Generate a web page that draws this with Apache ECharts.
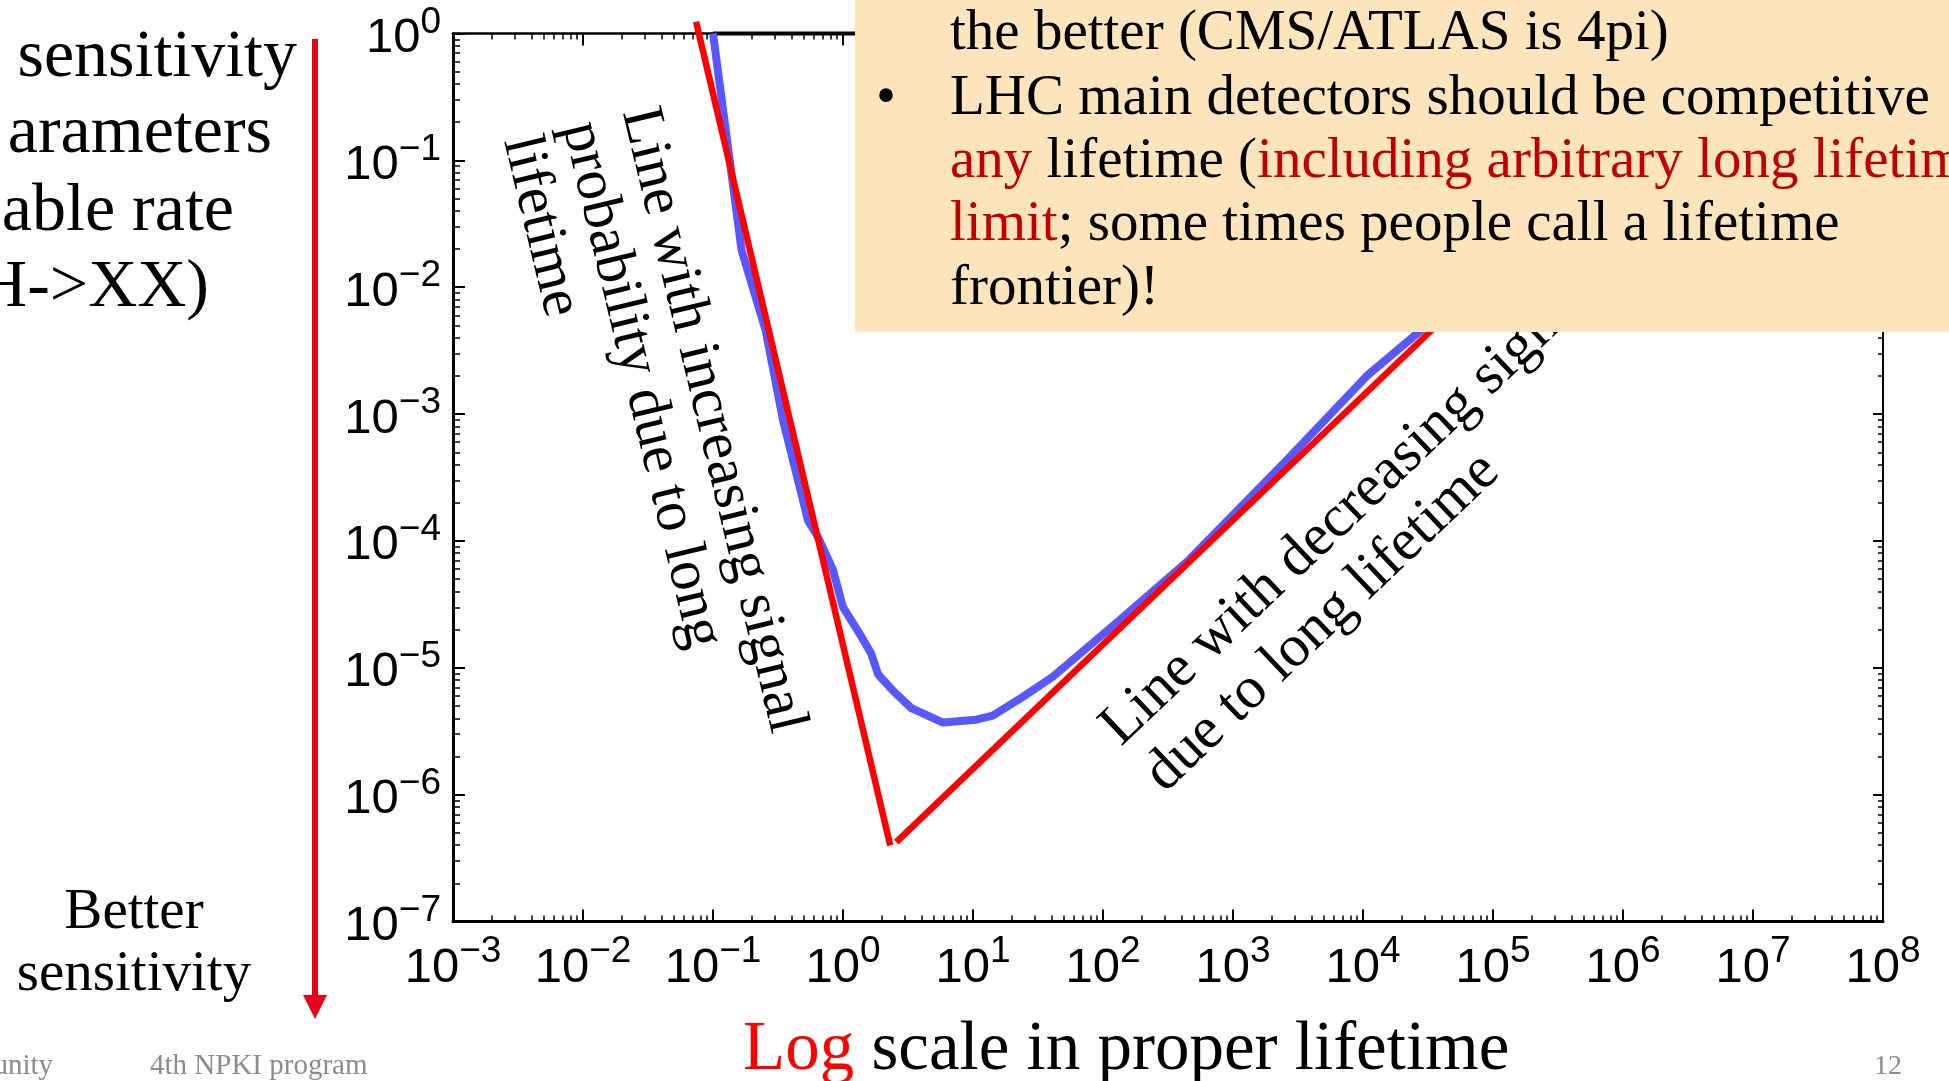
<!DOCTYPE html>
<html>
<head>
<meta charset="utf-8">
<script src="https://cdn.jsdelivr.net/npm/echarts@6/dist/echarts.min.js"></script>
<style>
  html, body { margin: 0; padding: 0; background: #ffffff; }
  #chart { width: 1949px; height: 1081px; }
</style>
</head>
<body>
<div id="chart"></div>
<script>
// Decade ticks of both axes
const xTickValues = [1e-3, 1e-2, 1e-1, 1e0, 1e1, 1e2, 1e3, 1e4, 1e5, 1e6, 1e7, 1e8];
const yTickValues = [1e-7, 1e-6, 1e-5, 1e-4, 1e-3, 1e-2, 1e-1, 1e0];

// Sensitivity curve versus proper lifetime
const curveLifetime = [0.1, 0.166, 0.254, 0.346, 0.538, 0.643, 0.838, 1.0, 1.12, 1.34, 1.65, 1.86,
  2.42, 3.36, 5.87, 10.6, 14.2, 24.2, 41.1, 134, 447, 2630, 1.07e4, 3.1e4, 1e5];
const curveSensitivity = [1.0, 0.0195, 4.57e-3, 8.9e-4, 1.45e-4, 1.07e-4, 5.9e-5, 3.0e-5, 2.5e-5, 1.86e-5,
  1.29e-5, 8.9e-6, 6.6e-6, 4.8e-6, 3.7e-6, 3.9e-6, 4.2e-6, 5.9e-6, 8.5e-6, 2.37e-5, 6.9e-5, 4.4e-4,
  2.0e-3, 5.0e-3, 0.0141];

// Saturated region at sensitivity 1
const flatLifetime = [0.1, 1e5];
const flatSensitivity = [1.0, 1.0];

// Asymptotes: short-lifetime branch and long-lifetime branch
const shortLifetime = [0.0741, 2.31];
const shortSensitivity = [1.24, 3.98e-7];
const longLifetime = [2.57, 1e5];
const longSensitivity = [4.23e-7, 0.0133];

const zip = (xs, ys) => xs.map((x, i) => [x, ys[i]]);

// minor tick positions (2..9 within each decade), in decade units
function minorExponents(lo, hi) {
  const out = [];
  for (let d = lo; d < hi; d++) for (let k = 2; k <= 9; k++) out.push(d + Math.log10(k));
  return out;
}

const SERIF = '"Liberation Serif", "Times New Roman", serif';
const SANS = '"Liberation Sans", Arial, sans-serif';
const BLACK = '#000000';

function powerLabel(v) {
  const e = Math.round(Math.log10(v));
  return '{b|10}{e|' + (e < 0 ? '\u2212' + (-e) : String(e)) + '}';
}
const labelRich = {
  b: { fontFamily: SANS, fontSize: 49, lineHeight: 59, verticalAlign: 'bottom', color: BLACK },
  e: { fontFamily: SANS, fontSize: 37, lineHeight: 27, verticalAlign: 'top', color: BLACK }
};

function logAxis(pos, withLabels, lineWidth, tickLen, range) {
  return {
    type: 'log', logBase: 10, min: range[0], max: range[1], interval: 1,
    position: pos,
    axisLine: { show: true, onZero: false, lineStyle: { color: BLACK, width: lineWidth } },
    axisTick: { show: true, inside: true, length: tickLen, lineStyle: { color: BLACK, width: 2 } },
    axisLabel: withLabels ? {
      show: true, formatter: powerLabel, rich: labelRich, margin: 12,
      showMinLabel: true, showMaxLabel: true
    } : { show: false },
    splitLine: { show: false }
  };
}
function minorAxis(pos, lo, hi, tickLen) {
  return {
    type: 'value', min: lo, max: hi, position: pos,
    axisLine: { show: false, onZero: false },
    axisLabel: { show: false },
    splitLine: { show: false },
    axisTick: { show: true, inside: true, length: tickLen, customValues: minorExponents(lo, hi),
      lineStyle: { color: BLACK, width: 1.5 } }
  };
}

// middle-anchored y for a serif text whose alphabetic baseline sits at b
const MID = 0.24;
const mid = (b, fs) => b - MID * fs;

function plainText(text, x, baseline, fs, opts) {
  opts = opts || {};
  return {
    type: 'text', x: x, y: mid(baseline, fs), z: opts.z || 50,
    style: { text: text, font: fs + 'px ' + SERIF, fill: opts.fill || BLACK,
      align: opts.align || 'left', verticalAlign: 'middle' }
  };
}
function richText(text, x, baseline, fs, z) {
  return {
    type: 'text', x: x, y: mid(baseline, fs), z: z,
    style: {
      text: text, align: 'left', verticalAlign: 'middle',
      font: fs + 'px ' + SERIF, fill: BLACK,
      rich: {
        k: { fill: BLACK, fontSize: fs, fontFamily: SERIF },
        r: { fill: '#C00000', fontSize: fs, fontFamily: SERIF },
        R: { fill: '#FF0000', fontSize: fs, fontFamily: SERIF }
      }
    }
  };
}
function rotatedBlock(lines, x, y, deg, fs, lh) {
  return {
    type: 'group', x: x, y: y, rotation: deg * Math.PI / 180, z: 40,
    children: lines.map((t, i) => ({
      type: 'text', x: 0, y: i * lh - MID * fs, z: 40,
      style: { text: t, font: fs + 'px ' + SERIF, fill: BLACK, align: 'left', verticalAlign: 'middle' }
    }))
  };
}

const BOX_FS = 57;
const FOOT = '#8C8C8C';
const graphics = [
  // left-hand description (partly off the page)
  plainText('sensitivity', 297, 74, 68, { align: 'right' }),
  plainText('arameters', 272, 150, 68, { align: 'right' }),
  plainText('able rate', 234, 228, 68, { align: 'right' }),
  plainText('H->XX)', 209, 304, 68, { align: 'right' }),
  plainText('Better', 134, 927, 57, { align: 'center' }),
  plainText('sensitivity', 134, 989, 57, { align: 'center' }),
  // downward arrow
  { type: 'line', z: 50, shape: { x1: 315, y1: 39, x2: 315, y2: 998 },
    style: { stroke: '#E8001B', lineWidth: 6 } },
  { type: 'polygon', z: 50, shape: { points: [[303, 995], [327, 995], [315, 1019]] },
    style: { fill: '#E8001B' } },
  // annotations along the asymptotes
  rotatedBlock(['Line with increasing signal', 'probability due to long', 'lifetime'],
    624, 112, -76.5, 59, 61),
  rotatedBlock(['Line with decreasing signal', 'due to long lifetime'],
    1120, 746, 43.5, 59, 64),
  // call-out box
  { type: 'rect', z: 100, shape: { x: 855, y: 0, width: 1094, height: 332 },
    style: { fill: '#FCE4BD' } },
  plainText('the better (CMS/ATLAS is 4pi)', 950, 48, BOX_FS, { z: 101 }),
  plainText('\u2022', 886, 113, BOX_FS, { z: 101, align: 'center' }),
  plainText('LHC main detectors should be competitive', 950, 113, BOX_FS, { z: 101 }),
  richText('{r|any}{k| lifetime (}{r|including arbitrary long lifetime}', 950, 176, BOX_FS, 101),
  richText('{r|limit}{k|; some times people call a lifetime}', 950, 239, BOX_FS, 101),
  plainText('frontier)!', 950, 303, BOX_FS, { z: 101 }),
  // axis title
  richText('{R|Log}{k| scale in proper lifetime}', 743, 1067, 69, 50),
  // footer
  plainText('unity', 53, 1073, 29, { align: 'right', fill: FOOT }),
  plainText('4th NPKI program', 150, 1073, 29, { fill: FOOT }),
  plainText('12', 1874, 1073, 28, { fill: FOOT })
];

const chart = echarts.init(document.getElementById('chart'), null, { renderer: 'canvas' });
chart.setOption({
  animation: false,
  backgroundColor: '#ffffff',
  grid: { left: 453, top: 33.5, width: 1430, height: 888, containLabel: false },
  xAxis: [
    logAxis('bottom', true, 3, 12, [1e-3, 1e8]),
    minorAxis('bottom', -3, 8, 6),
    logAxis('top', false, 2.5, 12, [1e-3, 1e8]),
    minorAxis('top', -3, 8, 6)
  ],
  yAxis: [
    logAxis('left', true, 3, 12, [1e-7, 1]),
    minorAxis('left', -7, 0, 7),
    logAxis('right', false, 2, 10, [1e-7, 1]),
    minorAxis('right', -7, 0, 5)
  ],
  series: [
    { type: 'line', xAxisIndex: 0, yAxisIndex: 0, data: zip(flatLifetime, flatSensitivity),
      showSymbol: false, clip: false, z: 1, lineStyle: { color: BLACK, width: 4 } },
    { type: 'line', xAxisIndex: 0, yAxisIndex: 0, data: zip(curveLifetime, curveSensitivity),
      showSymbol: false, clip: false, z: 2, lineStyle: { color: '#5858FF', width: 8 } },
    { type: 'line', xAxisIndex: 0, yAxisIndex: 0, data: zip(shortLifetime, shortSensitivity),
      showSymbol: false, clip: false, z: 3, lineStyle: { color: '#FF0000', width: 6.5 } },
    { type: 'line', xAxisIndex: 0, yAxisIndex: 0, data: zip(longLifetime, longSensitivity),
      showSymbol: false, clip: false, z: 3, lineStyle: { color: '#FF0000', width: 6.5 } }
  ],
  graphic: { elements: graphics }
});
</script>
</body>
</html>
